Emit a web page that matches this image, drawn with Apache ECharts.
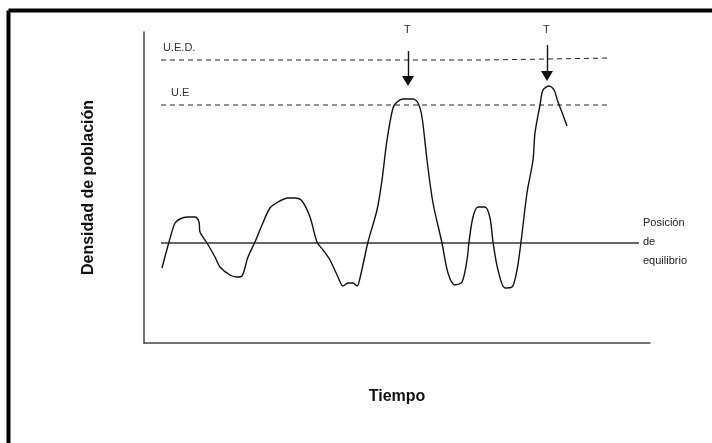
<!DOCTYPE html>
<html>
<head>
<meta charset="utf-8">
<script src="https://cdn.jsdelivr.net/npm/echarts@6/dist/echarts.min.js"></script>
<style>
  html, body { margin: 0; padding: 0; background: #fff; }
  #chart { width: 712px; height: 443px; }
</style>
</head>
<body>
<div id="chart"></div>
<script>
// curve: [tiempo, densidad]
var curvePoints = [
  [18,75],[25,101],[31,120],[36,124],[43,126],[51,126],[55,121],[56,111],
  [63,100],[71,86],[76,76],[86,68],[93,66],[98,67],[104,86],[111,101],
  [118,118],[126,135],[134,141],[144,145],[151,145],[158,142],[166,126],
  [173,101],[179,93],[186,83],[194,66],[199,57],[204,60],[209,60],[213,57],
  [216,65],[224,101],[233,133],[238,163],[243,203],[249,235],[253,241],
  [259,244],[269,244],[274,240],[278,226],[283,183],[289,140],[298,100],
  [304,70],[311,58],[318,61],[323,83],[325,101],[329,126],[334,136],
  [341,136],[346,125],[349,101],[354,73],[361,55],[368,56],[373,73],
  [377,101],[383,150],[389,183],[391,210],[396,238],[399,253],[405,257],
  [410,253],[414,241],[419,228],[423,217]
];
var equilibrio = [[17,100],[495,100]];
var ued = [[17,283],[340,283],[342,285],[467,285]];
var ue = [[17,238],[467,238]];
// arrows above the two peaks: [x, from, to]
var arrows = [[264,292,262],[403,298,267]];
var arrowLabel = 'T';

var chart = echarts.init(document.getElementById('chart'));

var option = {
  animation: false,
  grid: { left: 144, right: 62, top: 32, bottom: 100 },
  xAxis: {
    type: 'value', min: 0, max: 506,
    axisLine: { show: true, lineStyle: { color: '#444', width: 1.5 } },
    axisTick: { show: false }, axisLabel: { show: false }, splitLine: { show: false },
    name: 'Tiempo', nameLocation: 'middle', nameGap: 46,
    nameTextStyle: { color: '#111', fontSize: 16, fontWeight: 'bold', fontFamily: 'Liberation Sans' }
  },
  yAxis: {
    type: 'value', min: 0, max: 311,
    axisLine: { show: true, lineStyle: { color: '#444', width: 1.5 } },
    axisTick: { show: false }, axisLabel: { show: false }, splitLine: { show: false },
    name: 'Densidad de población', nameLocation: 'middle', nameGap: 47,
    nameTextStyle: { color: '#111', fontSize: 16, fontWeight: 'bold', fontFamily: 'Liberation Sans' }
  },
  series: [
    {
      type: 'line', data: curvePoints, showSymbol: false, smooth: 0.3,
      lineStyle: { color: '#111', width: 1.4 }, z: 5
    },
    {
      type: 'line', data: equilibrio, showSymbol: false,
      lineStyle: { color: '#333', width: 1.4 }
    },
    {
      type: 'line', data: ued, showSymbol: false,
      lineStyle: { color: '#222', width: 1, type: [5, 4] }
    },
    {
      type: 'line', data: ue, showSymbol: false,
      lineStyle: { color: '#222', width: 1, type: [5, 4] },
      markLine: {
        silent: true,
        symbol: ['none', 'triangle'],
        symbolSize: [12, 10],
        label: { show: false },
        lineStyle: { color: '#111', width: 1.4, type: 'solid' },
        data: arrows.map(function (a) {
          return [{ coord: [a[0], a[1]] }, { coord: [a[0], a[2]] }];
        })
      }
    }
  ],
  graphic: [
    { type: 'line', shape: { x1: 8.5, y1: 10.5, x2: 712, y2: 10.5 }, style: { stroke: '#000', lineWidth: 4 } },
    { type: 'line', shape: { x1: 8.5, y1: 10.5, x2: 8.5, y2: 443 }, style: { stroke: '#000', lineWidth: 4 } },
    { type: 'text', left: 163, top: 42, style: { text: 'U.E.D.', fontSize: 11, fill: '#333', fontFamily: 'Liberation Sans' } },
    { type: 'text', left: 171, top: 87, style: { text: 'U.E', fontSize: 11, fill: '#333', fontFamily: 'Liberation Sans' } },
    { type: 'text', left: 404, top: 24, style: { text: arrowLabel, fontSize: 11, fill: '#333', fontFamily: 'Liberation Sans' } },
    { type: 'text', left: 543, top: 24, style: { text: arrowLabel, fontSize: 11, fill: '#333', fontFamily: 'Liberation Sans' } },
    { type: 'text', left: 643, top: 213, style: { text: 'Posición\nde\nequilibrio', fontSize: 11, lineHeight: 19, fill: '#222', fontFamily: 'Liberation Sans' } }
  ]
};

chart.setOption(option);
</script>
</body>
</html>
